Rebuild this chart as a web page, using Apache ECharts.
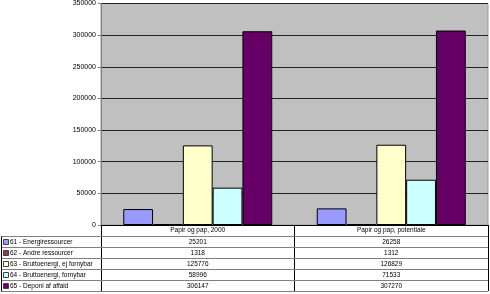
<!DOCTYPE html>
<html><head><meta charset="utf-8">
<script src="https://cdn.jsdelivr.net/npm/echarts@6/dist/echarts.min.js"></script>
<style>html,body{margin:0;padding:0;background:#fff}#c{width:490px;height:294px}</style>
</head><body><div id="c"></div>
<script>
const categories = ['Papir og pap, 2000', 'Papir og pap, potentiale'];
const seriesNames = ['61 - Energiressourcer', '62 - Andre ressourcer', '63 - Bruttoenergi, ej fornybar', '64 - Bruttoenergi, fornybar', '65 - Deponi af affald'];
const s61 = [25201, 26258];
const s62 = [1318, 1312];
const s63 = [125776, 126829];
const s64 = [58996, 71533];
const s65 = [306147, 307270];
const seriesValues = [s61, s62, s63, s64, s65];
const colors = ['#9999FF', '#993366', '#FFFFCC', '#CCFFFF', '#660066'];

const FONT = 'Liberation Sans, Arial, sans-serif';
const GL = 101, GR = 2, GT = 3.5, GB = 69, ROW = 11;

const chart = echarts.init(document.getElementById('c'), null, {renderer: 'canvas'});
const option = {
  animation: false,
  backgroundColor: '#fff',
  grid: {left: GL, right: GR, top: GT, bottom: GB, show: true, backgroundColor: '#C0C0C0', borderColor: '#9a9a9a', borderWidth: 1},
  xAxis: {
    type: 'category', data: categories,
    axisLine: {show: true, lineStyle: {color: '#000', width: 1}},
    axisTick: {show: true, length: ROW * 6, interval: 0, lineStyle: {color: '#000', width: 1}},
    axisLabel: {fontSize: 6.5, color: '#000', fontFamily: FONT, margin: 2, interval: 0},
    splitLine: {show: false}
  },
  yAxis: {
    type: 'value', min: 0, max: 350000, interval: 50000,
    axisLine: {show: true, lineStyle: {color: '#808080'}},
    axisTick: {show: true, length: 3, lineStyle: {color: '#808080'}},
    axisLabel: {fontSize: 7, color: '#000', fontFamily: FONT, margin: 5, formatter: v => String(v)},
    splitLine: {show: true, lineStyle: {color: '#222', width: 1}}
  },
  series: seriesValues.map((vals, i) => ({
    type: 'bar', name: seriesNames[i], data: vals,
    barGap: '0%', barCategoryGap: '23%',
    itemStyle: {color: colors[i], borderColor: '#000', borderWidth: 1}
  }))
};
chart.setOption(option);

const y0 = chart.convertToPixel({yAxisIndex: 0}, 0);
const xs = categories.map((c, i) => chart.convertToPixel({xAxisIndex: 0}, i));
const W = 490 - GR;
const g = [];
for (let k = 1; k <= 6; k++) {
  const y = Math.round(y0 + ROW * k) + 0.5;
  g.push({type: 'line', shape: {x1: 1, y1: y, x2: W, y2: y}, style: {stroke: '#808080', lineWidth: 1}, z: 10});
}
g.push({type: 'line', shape: {x1: 1.5, y1: Math.round(y0 + ROW) + 0.5, x2: 1.5, y2: Math.round(y0 + ROW * 6) + 0.5}, style: {stroke: '#000', lineWidth: 1}, z: 10});
seriesNames.forEach((name, i) => {
  const top = Math.round(y0 + ROW * (i + 1)) + 0.5;
  const cy = top + ROW / 2;
  g.push({type: 'rect', shape: {x: 3.5, y: cy - 2.5, width: 5, height: 5}, style: {fill: colors[i], stroke: '#404040', lineWidth: 1}, z: 11});
  g.push({type: 'text', x: 10, y: cy, style: {text: name, fontSize: 6.5, fontFamily: FONT, fill: '#000', verticalAlign: 'middle', align: 'left'}, z: 11});
  seriesValues[i].forEach((v, j) => {
    g.push({type: 'text', x: xs[j], y: cy, style: {text: String(v), fontSize: 6.5, fontFamily: FONT, fill: '#000', verticalAlign: 'middle', align: 'center'}, z: 11});
  });
});
chart.setOption({graphic: g});
</script></body></html>
